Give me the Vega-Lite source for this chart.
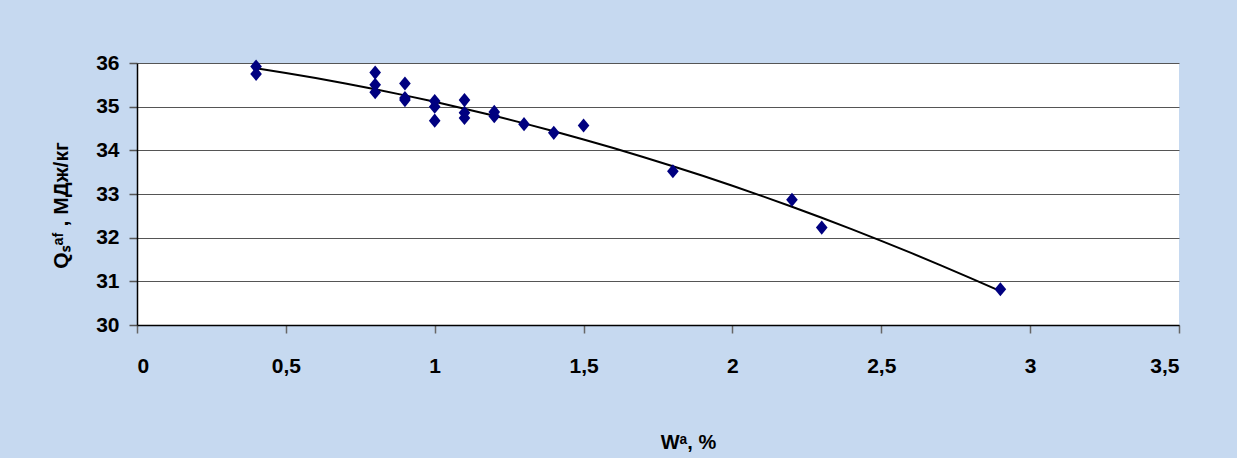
{
  "$schema": "https://vega.github.io/schema/vega-lite/v6.json",
  "width": 1042,
  "height": 262,
  "autosize": "none",
  "padding": {"left": 137, "top": 63, "right": 58, "bottom": 133},
  "background": "#C6D9F0",
  "config": {
    "view": {"fill": "white", "stroke": null},
    "font": "Liberation Sans"
  },
  "data": {
    "values": [
      {"W": 0.4, "Q": 35.92}, {"W": 0.4, "Q": 35.75},
      {"W": 0.8, "Q": 35.78}, {"W": 0.8, "Q": 35.5}, {"W": 0.8, "Q": 35.33},
      {"W": 0.9, "Q": 35.53}, {"W": 0.9, "Q": 35.2}, {"W": 0.9, "Q": 35.15},
      {"W": 1.0, "Q": 35.13}, {"W": 1.0, "Q": 35.0}, {"W": 1.0, "Q": 34.68},
      {"W": 1.1, "Q": 35.15}, {"W": 1.1, "Q": 34.86}, {"W": 1.1, "Q": 34.74},
      {"W": 1.2, "Q": 34.88}, {"W": 1.2, "Q": 34.78},
      {"W": 1.3, "Q": 34.6},
      {"W": 1.4, "Q": 34.4},
      {"W": 1.5, "Q": 34.57},
      {"W": 1.8, "Q": 33.52},
      {"W": 2.2, "Q": 32.87},
      {"W": 2.3, "Q": 32.23},
      {"W": 2.9, "Q": 30.82}
    ]
  },
  "encoding": {
    "x": {
      "field": "W", "type": "quantitative",
      "scale": {"domain": [0, 3.5], "nice": false, "zero": false},
      "axis": {
        "title": "Wᵃ, %",
        "values": [0, 0.5, 1, 1.5, 2, 2.5, 3, 3.5],
        "labelExpr": "replace(format(datum.value, '~g'), '.', ',')",
        "grid": false,
        "domainColor": "#000000", "domainWidth": 1.5,
        "tickColor": "#666666", "tickSize": 8, "tickWidth": 1.5,
        "labelPadding": 22, "labelFontSize": 21, "labelFontWeight": "bold", "labelColor": "#000000",
        "titleFontSize": 20, "titleFontWeight": "bold", "titleColor": "#000000",
        "titleX": 551, "titleY": 123, "titleBaseline": "alphabetic", "titleAnchor": "middle"
      }
    },
    "y": {
      "field": "Q", "type": "quantitative",
      "scale": {"domain": [30, 36], "nice": false, "zero": false},
      "axis": {
        "title": "Qₛᵃᶠ , МДж/кг",
        "values": [30, 31, 32, 33, 34, 35, 36],
        "grid": true, "gridColor": "#555555", "gridWidth": 1.2,
        "domainColor": "#000000", "domainWidth": 1.5,
        "tickColor": "#555555", "tickSize": 8, "tickWidth": 1.5,
        "labelPadding": 10, "labelFontSize": 21, "labelFontWeight": "bold", "labelColor": "#000000",
        "titleFontSize": 21, "titleFontWeight": "bold", "titleColor": "#000000",
        "titleX": -70, "titleY": 142, "titleAngle": -90, "titleBaseline": "alphabetic", "titleAnchor": "middle"
      }
    }
  },
  "layer": [
    {
      "transform": [
        {"regression": "Q", "on": "W", "method": "poly", "order": 2, "extent": [0.4, 2.9]}
      ],
      "mark": {"type": "line", "color": "#000000", "strokeWidth": 2}
    },
    {
      "mark": {"type": "point", "shape": "M0,-1.15L0.95,0L0,1.15L-0.95,0Z", "filled": true, "color": "#000080", "size": 150, "opacity": 1}
    }
  ]
}
